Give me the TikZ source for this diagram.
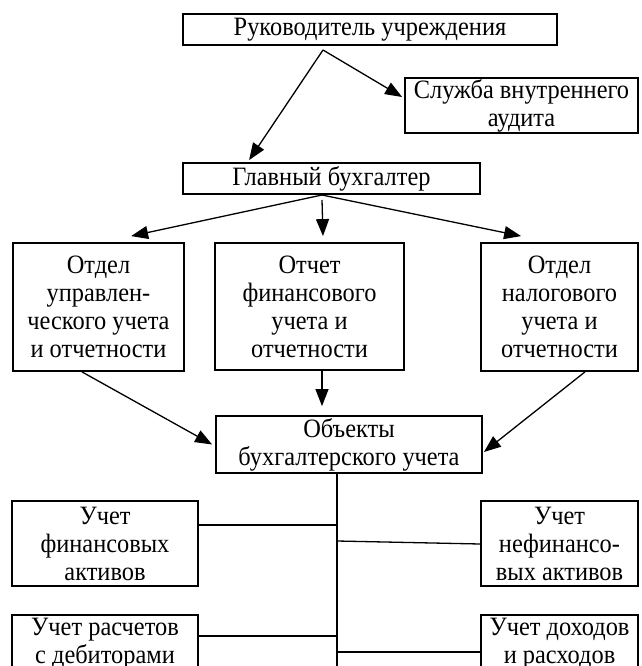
\documentclass[tikz,border=0pt]{standalone}
\usepackage{fontspec}
\setmainfont{Liberation Serif}[FakeStretch=0.92]
\usetikzlibrary{arrows.meta}
\tikzset{>={Triangle[length=17pt, width=13pt]}}
\tikzset{box/.style={draw, line width=1.8pt, inner sep=0pt, align=center, font=\fontsize{26.5}{28}\selectfont}}

\begin{document}
\begin{tikzpicture}[x=1pt, y=-1pt, line width=1.3pt]
    \useasboundingbox (0, 0) rectangle (641, 666);
    \node[box, minimum width=374pt, minimum height=31pt](ruk) at (370, 29.5){Руководитель учреждения};
    \node[box, minimum width=233pt, minimum height=55pt](audit) at (521.5, 105.5){Служба внутреннего\\аудита};
    \node[box, minimum width=297pt, minimum height=31pt](glav) at (331.5, 178.5){Главный бухгалтер};
    \node[box, minimum width=171pt, minimum height=128pt](upr) at (98.5, 307){Отдел\\управлен-\\ческого учета\\и отчетности};
    \node[box, minimum width=189pt, minimum height=127pt](fin) at (309.5, 306.5){Отчет\\финансового\\учета и\\отчетности};
    \node[box, minimum width=157pt, minimum height=128pt](nal) at (559.5, 307){Отдел\\налогового\\учета и\\отчетности};
    \node[box, minimum width=266pt, minimum height=57pt](obj) at (349, 444.5){Объекты\\бухгалтерского учета};
    \node[box, minimum width=186pt, minimum height=85pt](finakt) at (105, 543.5){Учет\\финансовых\\активов};
    \node[box, minimum width=157pt, minimum height=85pt](nefinakt) at (559.5, 543.5){Учет\\нефинансо-\\вых активов};
    \node[box, minimum width=186pt, minimum height=57pt](debit) at (105, 643.5){Учет расчетов\\с дебиторами};
    \node[box, minimum width=157pt, minimum height=57pt](dohod) at (559.5, 643.5){Учет доходов\\и расходов};

    \coordinate(rukfork) at (323, 50);
    \coordinate(glavfork) at (322, 195);
    \coordinate(trunk) at (337, 680);

    \draw[->](rukfork)--([xshift=67pt, yshift=2pt]glav.north west);
    \draw[->](rukfork)--([xshift=-2pt, yshift=8.5pt]audit.west);
    \draw[->](glavfork)--([xshift=119pt, yshift=6pt]upr.north west);
    \draw[->]([yshift=-5pt]glavfork)--([xshift=13.5pt, yshift=6pt]fin.north);
    \draw[->](glavfork)--([xshift=41pt, yshift=6pt]nal.north west);
    \draw[->]([xshift=-16.5pt]upr.south)--([xshift=-3pt]obj.west);
    \draw[->]([xshift=12.5pt]fin.south)--([xshift=-27pt, yshift=9pt]obj.north);
    \draw[->]([xshift=25.5pt]nal.south)--([xshift=1pt, yshift=-7.5pt]obj.east);

    \draw(obj.south -| trunk)--(trunk);
    \draw([yshift=18.5pt]finakt.east)--([yshift=18.5pt]finakt.east -| trunk);
    \draw([yshift=2.5pt]nefinakt.west -| trunk)--([yshift=-0.5pt]nefinakt.west);
    \draw([yshift=7.5pt]debit.east)--([yshift=7.5pt]debit.east -| trunk);
    \draw([yshift=-8.5pt]dohod.west -| trunk)--([yshift=-8.5pt]dohod.west);
\end{tikzpicture}
\end{document}
